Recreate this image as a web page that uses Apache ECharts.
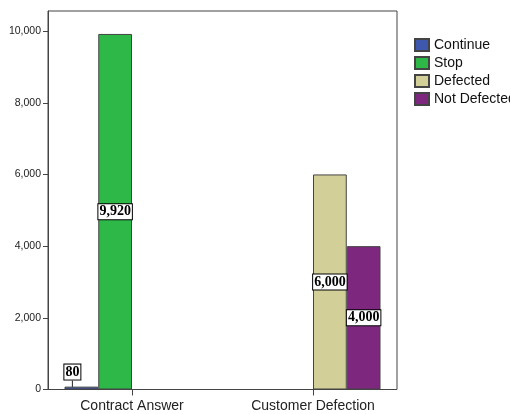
<!DOCTYPE html>
<html><head><meta charset="utf-8">
<script src="https://cdn.jsdelivr.net/npm/echarts@6/dist/echarts.min.js"></script>
<style>html,body{margin:0;padding:0;background:#fff}#c{width:510px;height:414px}</style>
</head><body><div id="c"></div>
<script>
const categories = ['Contract Answer', 'Customer Defection'];
const continueVals = [80, null];
const stopVals = [9920, null];
const defectedVals = [null, 6000];
const notDefectedVals = [null, 4000];
const yTicks = [0, 2000, 4000, 6000, 8000, 10000];
const seriesNames = ['Continue', 'Stop', 'Defected', 'Not Defected'];
const colors = ['#3d58ad', '#2eb848', '#d3cf98', '#7d287e'];

const YMAX = 10560;
const chart = echarts.init(document.getElementById('c'));
const labelStyle = {
  show: true, position: 'inside', color: '#000',
  fontFamily: 'Liberation Serif', fontWeight: 'bold', fontSize: 14,
  backgroundColor: '#fff', borderColor: '#000', borderWidth: 1, padding: [1, 1, 0, 1],
  formatter: p => p.value == null ? '' : Number(p.value).toLocaleString('en-US')
};
function mk(i, data) {
  const s = {
    name: seriesNames[i], type: 'bar', data: data, xAxisIndex: 1, yAxisIndex: 1,
    barWidth: 33.75, barGap: '0%',
    itemStyle: { color: colors[i], borderColor: '#444', borderWidth: 1 },
    label: labelStyle
  };
  if (i === 0) {
    s.labelLayout = { dx: -9, dy: -16 };
    s.labelLine = { show: true, lineStyle: { color: '#222', width: 1 } };
  }
  return s;
}
chart.setOption({
  animation: false,
  color: colors,
  legend: {
    orient: 'vertical', left: 409, top: 33, itemWidth: 14, itemHeight: 12, itemGap: 4,
    icon: 'rect', data: seriesNames,
    textStyle: { fontFamily: 'Liberation Sans', fontSize: 14, color: '#111' }
  },
  grid: [
    { left: 48, right: 113, top: 11, bottom: 24.5, show: true, borderColor: '#444', borderWidth: 1, backgroundColor: 'transparent' },
    { left: 41.5, right: 106.5, top: 11, bottom: 24.5 }
  ],
  xAxis: [
    { gridIndex: 0, type: 'value', min: 0, max: 1, show: false },
    { gridIndex: 1, type: 'category', data: categories,
      axisLine: { show: false },
      axisTick: { show: true, alignWithLabel: true, length: 6, lineStyle: { color: '#444' } },
      axisLabel: { fontFamily: 'Liberation Sans', fontSize: 14, color: '#222', margin: 10 } }
  ],
  yAxis: [
    { gridIndex: 0, type: 'value', min: 0, max: YMAX,
      axisLine: { show: true, lineStyle: { color: '#444' } },
      axisTick: { show: true, length: 5, lineStyle: { color: '#444' }, customValues: yTicks },
      axisLabel: { fontFamily: 'Liberation Sans', fontSize: 10.5, color: '#222', margin: 7,
        customValues: yTicks, formatter: v => Number(v).toLocaleString('en-US') },
      splitLine: { show: false } },
    { gridIndex: 1, type: 'value', min: 0, max: YMAX, show: false, splitLine: { show: false } }
  ],
  series: [mk(0, continueVals), mk(1, stopVals), mk(2, defectedVals), mk(3, notDefectedVals)]
});
</script></body></html>
